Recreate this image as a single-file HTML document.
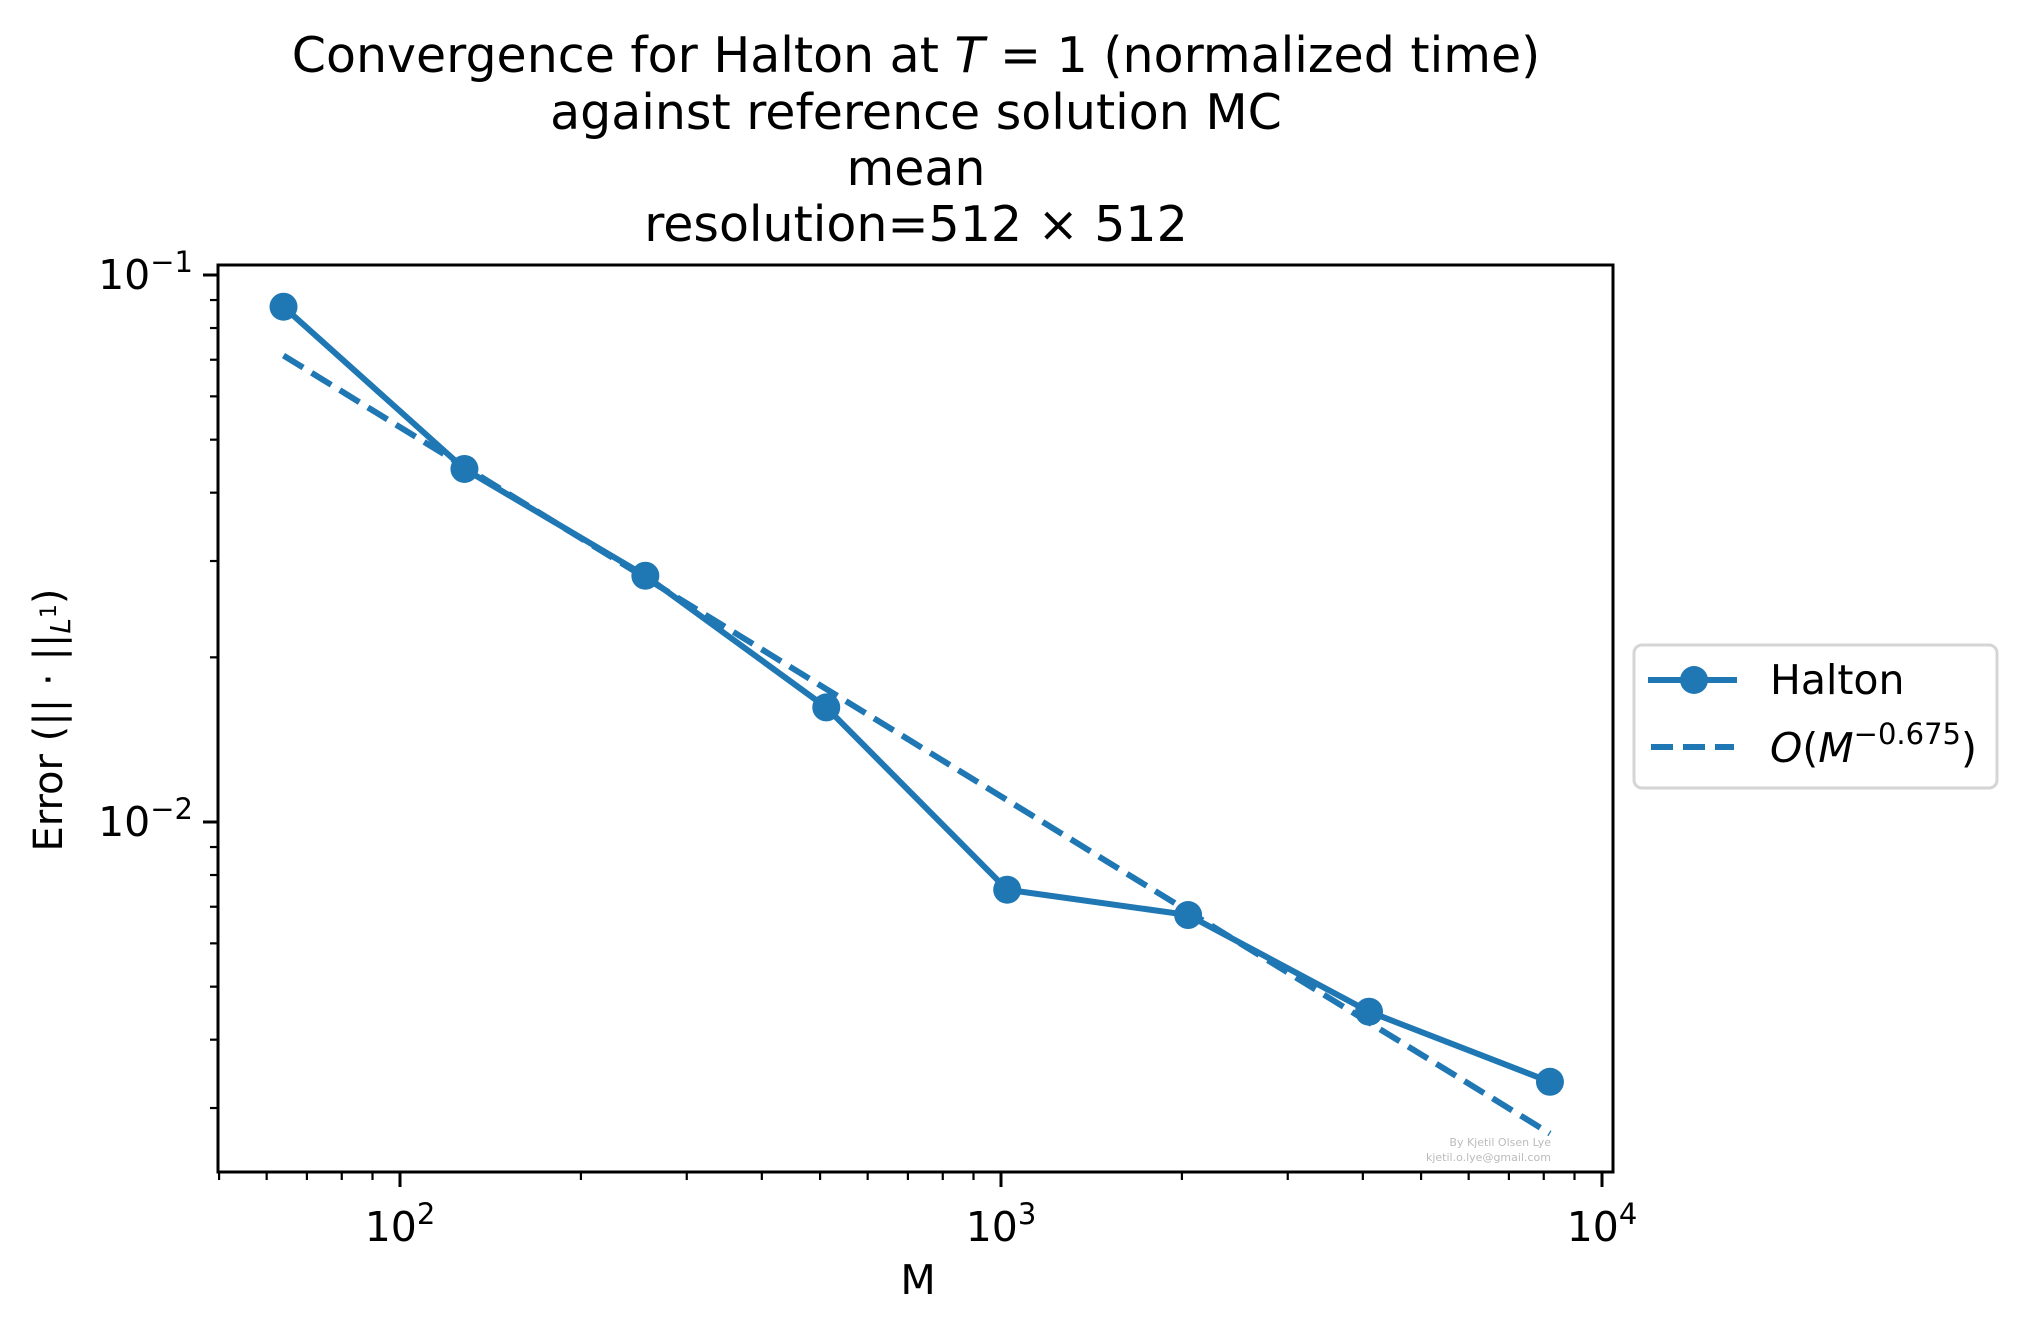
<!DOCTYPE html>
<html><head><meta charset="utf-8"><style>
html,body{margin:0;padding:0;background:#fff;}
svg{display:block;font-family:"DejaVu Sans","Liberation Sans",sans-serif;}
</style></head><body>
<svg id="chart" width="2025" height="1330" viewBox="0 0 2025 1330" xmlns="http://www.w3.org/2000/svg">
<rect width="2025" height="1330" fill="#fff"/>
<g font-size="49" text-anchor="middle" fill="#000">
<text x="916" y="72">Convergence for Halton at <tspan font-style="italic">T</tspan> = 1 (normalized time)</text>
<text x="916" y="129">against reference solution MC</text>
<text x="916" y="185">mean</text>
<text x="916" y="241">resolution=512 × 512</text>
</g>
<g id="plot"></g>
<text x="918" y="1294" font-size="41" text-anchor="middle">M</text>
<text transform="translate(62,720) rotate(-90)" font-size="40" text-anchor="middle">Error (|| · ||<tspan font-size="28" dy="8" font-style="italic">L</tspan><tspan font-size="22" dy="-14">1</tspan><tspan dy="6">)</tspan></text>
<text x="1551" y="1146" font-size="11" fill="#bbb" text-anchor="end">By Kjetil Olsen Lye</text>
<text x="1551" y="1161" font-size="11" fill="#bbb" text-anchor="end">kjetil.o.lye@gmail.com</text>
<g>
<rect x="1634" y="645" width="363" height="143" rx="8" fill="#fff" stroke="#d5d5d5" stroke-width="3"/>
<line x1="1648" y1="680" x2="1737" y2="680" stroke="#1f77b4" stroke-width="6"/>
<circle cx="1694" cy="680" r="14" fill="#1f77b4"/>
<text x="1770" y="694" font-size="41">Halton</text>
<line x1="1651" y1="747" x2="1734" y2="747" stroke="#1f77b4" stroke-width="6" stroke-dasharray="22,10"/>
<text x="1770" y="762" font-size="41"><tspan font-style="italic">O</tspan>(<tspan font-style="italic">M</tspan><tspan font-size="29" dy="-18">−0.675</tspan><tspan dy="18">)</tspan></text>
</g>
</svg>
<script>
const mValues = [64, 128, 256, 512, 1024, 2048, 4096, 8192];
const errValues = [0.0875, 0.0442, 0.0282, 0.0162, 0.00752, 0.00676, 0.00450, 0.00335];
const fitCoef = 1.18;
const fitExp = -0.675;
const xTickLabels = ["2", "3", "4"];
const yTickLabels = ["−1", "−2"];

const NS = "http://www.w3.org/2000/svg";
const L = 218, R = 1613, T = 265, B = 1172;
const xLog0 = 2, xPx0 = 400, xDec = 601;
const yLog0 = -1, yPx0 = 275, yDec = 547;
const xs = v => xPx0 + (Math.log10(v) - xLog0) * xDec;
const ys = v => yPx0 - (Math.log10(v) - yLog0) * yDec;
const plot = document.getElementById('plot');
function mk(tag, attrs, parent) {
  const e = document.createElementNS(NS, tag);
  for (const k in attrs) e.setAttribute(k, attrs[k]);
  (parent || plot).appendChild(e);
  return e;
}
const fitPts = [mValues[0], mValues[mValues.length - 1]].map(m => xs(m) + ',' + ys(fitCoef * Math.pow(m, fitExp))).join(' ');
const fit = mk('polyline', {points: fitPts, fill: 'none', stroke: '#1f77b4', 'stroke-width': 6, 'stroke-dasharray': '23,10'});


const dPts = mValues.map((m, i) => xs(m) + ',' + ys(errValues[i])).join(' ');
const dl = mk('polyline', {points: dPts, fill: 'none', stroke: '#1f77b4', 'stroke-width': 6});


mValues.forEach((m, i) => {
  const c = mk('circle', {cx: xs(m), cy: ys(errValues[i]), r: 14, fill: '#1f77b4'});
  
  
});
const fr = mk('rect', {x: L, y: T, width: R - L, height: B - T, fill: 'none', stroke: '#000', 'stroke-width': 3});


for (let d = 1; d <= 4; d++) {
  for (let k = 1; k <= 9; k++) {
    const v = k * Math.pow(10, d);
    const x = xs(v);
    if (x < L || x > R) continue;
    const len = k === 1 ? 15 : 8;
    const t = mk('line', {x1: x, y1: B, x2: x, y2: B + len, stroke: '#000', 'stroke-width': k === 1 ? 3 : 2.2});
    
    
  }
}
xTickLabels.forEach(p => {
  const tx = mk('text', {x: xs(Math.pow(10, +p)), y: 1241, 'font-size': 41, 'text-anchor': 'middle'});
  
  
  tx.innerHTML = '10<tspan font-size="29" dy="-17">' + p + '</tspan>';
});
for (let d = -3; d <= -1; d++) {
  for (let k = 1; k <= 9; k++) {
    const v = k * Math.pow(10, d);
    const y = ys(v);
    if (y < T - 1 || y > B) continue;
    const len = k === 1 ? 15 : 8;
    const t = mk('line', {x1: L, y1: y, x2: L - len, y2: y, stroke: '#000', 'stroke-width': k === 1 ? 3 : 2.2});
    
    
  }
}
yTickLabels.forEach((p, i) => {
  const v = Math.pow(10, -(i + 1));
  const tx = mk('text', {x: 193, y: ys(v) + 14, 'font-size': 41, 'text-anchor': 'end'});
  
  
  tx.innerHTML = '10<tspan font-size="29" dy="-17">' + p + '</tspan>';
});
</script>
</body></html>
